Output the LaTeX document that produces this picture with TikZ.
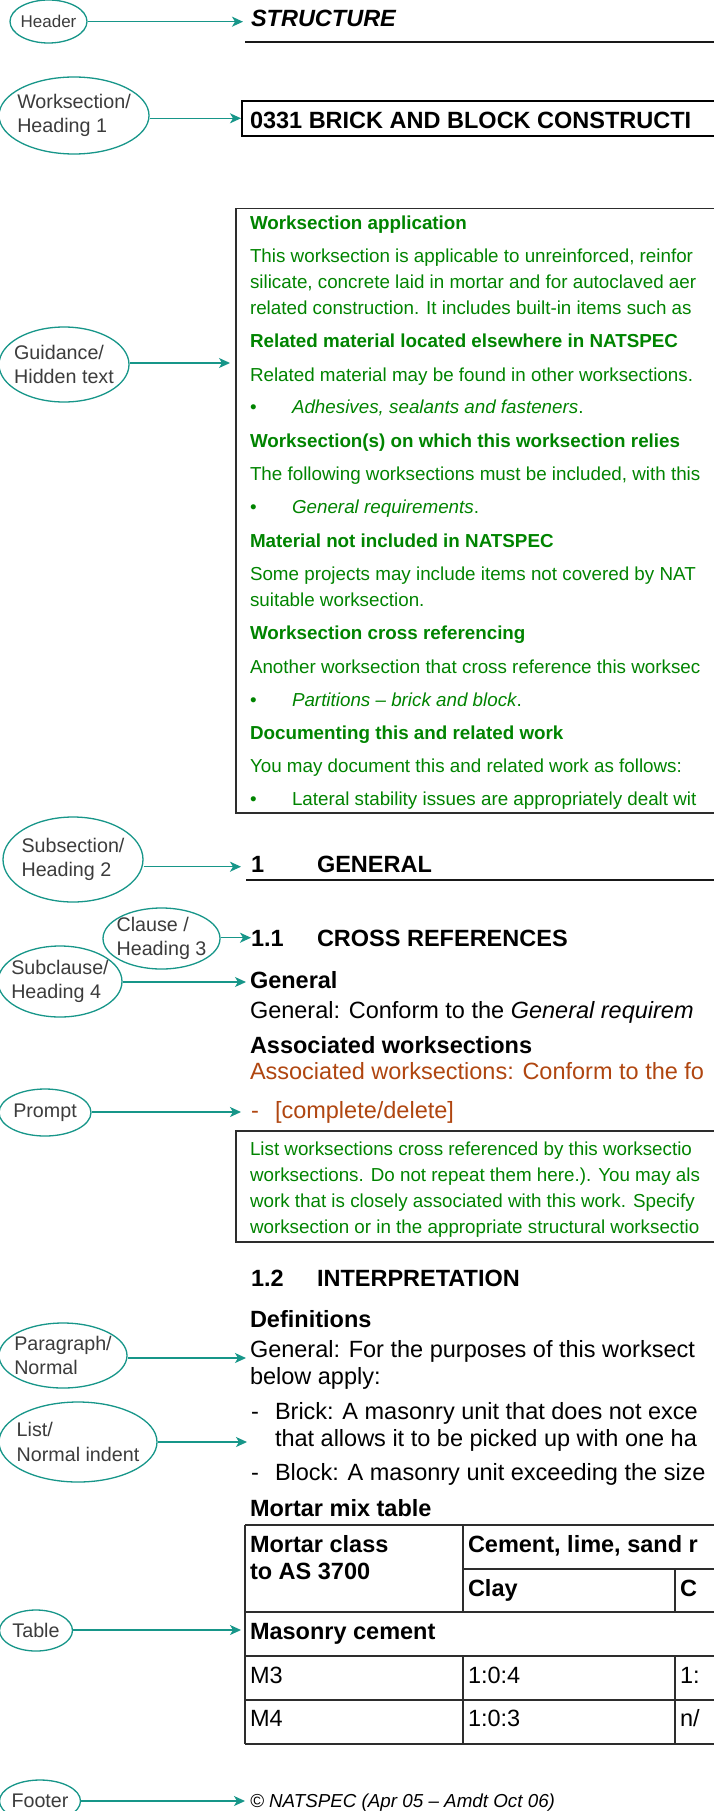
\documentclass[tikz,border=0pt]{standalone}
\usepackage{fontspec}
\setmainfont{Liberation Sans}
\usetikzlibrary{shapes.geometric,arrows.meta}
\definecolor{tealc}{RGB}{23,150,137}
\definecolor{greenc}{RGB}{0,132,0}
\definecolor{brownc}{RGB}{176,70,16}
\definecolor{labc}{RGB}{60,60,60}
\definecolor{framec}{RGB}{45,45,45}
\newcommand\fntHead{\fontsize{23.5}{28}\selectfont}
\newcommand\fntGreen{\fontsize{18.8}{22}\selectfont}
\newcommand\fntLab{\fontsize{19.7}{24.5}\selectfont}
\newcommand\fntLabS{\fontsize{17}{20}\selectfont}
\tikzset{
  lab/.style={ellipse, draw=tealc, line width=1.3pt, text=labc, font=\fntLab,
    align=left, inner sep=-12pt},
  arr/.style={draw=tealc, line width=1.3pt, -{Stealth[length=11pt,width=10pt,inset=3pt]}},
  txt/.style={anchor=base west, inner sep=0pt, outer sep=0pt},
  hd/.style={txt, font=\fntHead\bfseries},
  bd/.style={txt, font=\fntHead},
  gr/.style={txt, text=greenc, font=\fntGreen},
  grb/.style={txt, text=greenc, font=\fntGreen\bfseries},
  br/.style={txt, text=brownc, font=\fntHead},
  frame/.style={draw=framec, line width=1.3pt},
  rule/.style={draw=black!90, line width=2pt},
  tline/.style={draw=framec, line width=1.5pt}
}
\begin{document}
\begin{tikzpicture}[x=1pt,y=-1pt]
\useasboundingbox (0,0) rectangle (714,1811);
\fill[white] (0,0) rectangle (714,1811);
\clip (0,0) rectangle (714,1811);

% ---------- labels (ellipses) ----------
\node[lab, font=\fntLabS, minimum width=77pt, minimum height=43pt] (hdr) at (48.5,21.5) {Header};
\node[lab, minimum width=150pt, minimum height=77pt] (ws) at (74,115.5) {Worksection/\\Heading 1};
\node[lab, minimum width=130pt, minimum height=75pt] (gd) at (64,364.5) {Guidance/\\Hidden text};
\node[lab, minimum width=140pt, minimum height=85pt] (h2) at (73,859.5) {Subsection/\\Heading 2};
\node[lab, minimum width=117pt, minimum height=61pt] (h3) at (161.5,938.5) {Clause /\\Heading 3};
\node[lab, minimum width=124pt, minimum height=71pt] (h4) at (60,981.5) {Subclause/\\Heading 4};
\node[lab, minimum width=92pt, minimum height=47pt] (pr) at (45,1112.5) {Prompt};
\node[lab, minimum width=128pt, minimum height=65pt] (pa) at (63,1355.5) {Paragraph/\\Normal};
\node[lab, minimum width=158pt, minimum height=80pt] (li) at (78,1442) {List/\\Normal indent};
\node[lab, minimum width=73pt, minimum height=41pt] (tb) at (36,1630.5) {Table};
\node[lab, minimum width=81pt, minimum height=42pt] (ft) at (40,1801) {Footer};

% ---------- arrow end points ----------
\coordinate (a1) at (243,21.7);
\coordinate (a2) at (241,118.3);
\coordinate (a3) at (230,363);
\coordinate (a4) at (241,866.7);
\coordinate (a5) at (251,937.7);
\coordinate (a6) at (246,982);
\coordinate (a7) at (241,1112);
\coordinate (a8) at (246,1358);
\coordinate (a9) at (247,1442);
\coordinate (a10) at (241,1630);
\coordinate (a11) at (245,1801);

\draw[arr] (hdr.east |- a1) -- (a1);
\draw[arr] (ws.east |- a2) -- (a2);
\draw[arr] (gd.east |- a3) -- (a3);
\draw[arr] (h2.east |- a4) -- (a4);
\draw[arr] (h3.east |- a5) -- (a5);
\draw[arr] (h4.east |- a6) -- (a6);
\draw[arr] (pr.east |- a7) -- (a7);
\draw[arr] (pa.east |- a8) -- (a8);
\draw[arr] (li.east |- a9) -- (a9);
\draw[arr] (tb.east |- a10) -- (a10);
\draw[arr] (ft.east |- a11) -- (a11);

% ---------- header ----------
\node[hd, font=\fntHead\bfseries\itshape] (tstruct) at (251,26.7) {STRUCTURE};
\draw[rule] (245,41.7) -- (725,41.7);

% ---------- worksection heading ----------
\draw[draw=black, line width=2pt] (242,101) rectangle (725,136);
\node[hd] (tws) at (250,128.3) {0331 BRICK AND BLOCK CONSTRUCTI};

% ---------- hidden text box ----------
\draw[frame] (236,208.5) rectangle (725,813);
\node[grb] (g1) at (250,230) {Worksection application};
\node[gr] (g2) at (250,262) {This worksection is applicable to unreinforced, reinfor};
\node[gr] (g3) at (250,288) {silicate, concrete laid in mortar and for autoclaved aer};
\node[gr] (g4) at (250,314) {related construction. It includes built-in items such as};
\node[grb] (g5) at (250,347) {Related material located elsewhere in NATSPEC};
\node[gr] (g6) at (250,381) {Related material may be found in other worksections.};
\node[gr] (b1) at (250,413) {•};
\node[gr] (g7) at (292,413) {\textit{Adhesives, sealants and fasteners}.};
\node[grb] (g8) at (250,447) {Worksection(s) on which this worksection relies};
\node[gr] (g9) at (250,480) {The following worksections must be included, with this};
\node[gr] (b2) at (250,513) {•};
\node[gr] (g10) at (292,513) {\textit{General requirements}.};
\node[grb] (g11) at (250,547) {Material not included in NATSPEC};
\node[gr] (g12) at (250,580) {Some projects may include items not covered by NAT};
\node[gr] (g13) at (250,606) {suitable worksection.};
\node[grb] (g14) at (250,639) {Worksection cross referencing};
\node[gr] (g15) at (250,673) {Another worksection that cross reference this worksec};
\node[gr] (b3) at (250,706) {•};
\node[gr] (g16) at (292,706) {\textit{Partitions – brick and block}.};
\node[grb] (g17) at (250,739) {Documenting this and related work};
\node[gr] (g18) at (250,772) {You may document this and related work as follows:};
\node[gr] (b4) at (250,805) {•};
\node[gr] (g19) at (292,805) {Lateral stability issues are appropriately dealt wit};

% ---------- 1 GENERAL ----------
\node[hd] (n1) at (251,872) {1};
\node[hd] (tgen) at (317,872) {GENERAL};
\draw[rule] (246,880) -- (725,880);

% ---------- 1.1 ----------
\node[hd] (n11) at (251,946) {1.1};
\node[hd] (tcross) at (317,946) {CROSS REFERENCES};
\node[hd] (tgeneral) at (250,988) {General};
\node[bd] (tconf) at (250,1018) {General: Conform to the \textit{General requirem}};
\node[hd] (tassoc) at (250,1053) {Associated worksections};
\node[br] (tassoc2) at (250,1079) {Associated worksections: Conform to the fo};
\node[br] (tdash) at (251,1118) {-};
\node[br] (tcomp) at (275,1118) {[complete/delete]};

% ---------- guidance box 2 ----------
\draw[frame] (236,1131) rectangle (725,1242);
\node[gr] (l1) at (250,1155) {List worksections cross referenced by this worksectio};
\node[gr] (l2) at (250,1181) {worksections. Do not repeat them here.). You may als};
\node[gr] (l3) at (250,1207) {work that is closely associated with this work. Specify};
\node[gr] (l4) at (250,1233) {worksection or in the appropriate structural worksectio};

% ---------- 1.2 ----------
\node[hd] (n12) at (251,1286) {1.2};
\node[hd] (tinterp) at (317,1286) {INTERPRETATION};
\node[hd] (tdef) at (250,1327) {Definitions};
\node[bd] (tp1) at (250,1357) {General: For the purposes of this worksect};
\node[bd] (tp2) at (250,1384) {below apply:};
\node[bd] (d1) at (251,1419) {-};
\node[bd] (tl1) at (275,1419) {Brick: A masonry unit that does not exce};
\node[bd] (tl2) at (275,1446) {that allows it to be picked up with one ha};
\node[bd] (d2) at (251,1480) {-};
\node[bd] (tl3) at (275,1480) {Block: A masonry unit exceeding the size};
\node[hd] (tmix) at (250,1516) {Mortar mix table};

% ---------- table ----------
\draw[tline] (245,1525) -- (725,1525);
\draw[tline] (463,1569) -- (725,1569);
\draw[tline] (245,1612) -- (725,1612);
\draw[tline] (245,1656) -- (725,1656);
\draw[tline] (245,1700) -- (725,1700);
\draw[tline] (245,1744) -- (725,1744);
\draw[tline] (245,1525) -- (245,1744);
\draw[tline] (463,1525) -- (463,1612);
\draw[tline] (463,1656) -- (463,1744);
\draw[tline] (675,1569) -- (675,1612);
\draw[tline] (675,1656) -- (675,1744);
\node[hd] (c11) at (250,1552) {Mortar class};
\node[hd] (c12) at (250,1579) {to AS 3700};
\node[hd] (c2) at (468,1552) {Cement, lime, sand r};
\node[hd] (c3) at (468,1596) {Clay};
\node[hd] (c4) at (680,1596) {C};
\node[hd] (c5) at (250,1639) {Masonry cement};
\node[bd] (r1a) at (250,1683) {M3};
\node[bd] (r1b) at (468,1683) {1:0:4};
\node[bd] (r1c) at (680,1683) {1:};
\node[bd] (r2a) at (250,1726) {M4};
\node[bd] (r2b) at (468,1726) {1:0:3};
\node[bd] (r2c) at (680,1726) {n/};

% ---------- footer ----------
\node[txt, font=\fntGreen\itshape] (tfoot) at (250,1807) {© NATSPEC (Apr 05 – Amdt Oct 06)};
\end{tikzpicture}
\end{document}
